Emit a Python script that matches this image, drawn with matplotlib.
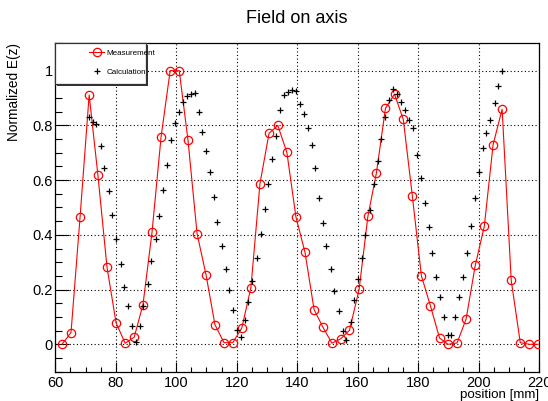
import matplotlib
matplotlib.use('Agg')
import matplotlib.pyplot as plt
from matplotlib.ticker import MultipleLocator, FuncFormatter
from matplotlib.patches import Rectangle

plt.rcParams['font.family'] = ['Liberation Sans', 'DejaVu Sans']

meas_pos = [62.2, 65.2, 68.2, 71.2, 74.1, 77.1, 80.1, 83.1, 86.1, 89.0, 92.0, 95.0,
            98.0, 101.0, 103.9, 106.9, 109.9, 112.8, 115.8, 118.7, 121.7, 124.7,
            127.7, 130.7, 133.6, 136.6, 139.6, 142.6, 145.6, 148.5, 151.5, 154.4,
            157.3, 160.5, 163.4, 166.2, 169.2, 172.2, 175.1, 178.1, 181.1, 184.1,
            187.1, 189.9, 192.9, 195.9, 198.9, 201.9, 204.8, 207.8, 210.8, 213.8,
            216.8, 219.7]
meas_val = [0.0, 0.043, 0.466, 0.911, 0.618, 0.282, 0.079, 0.004, 0.026, 0.145,
            0.410, 0.759, 1.0, 1.0, 0.745, 0.404, 0.252, 0.072, 0.006, 0.006,
            0.060, 0.207, 0.587, 0.771, 0.800, 0.701, 0.465, 0.336, 0.127, 0.063,
            0.004, 0.020, 0.051, 0.201, 0.468, 0.625, 0.862, 0.914, 0.822, 0.542,
            0.250, 0.140, 0.023, 0.0, 0.005, 0.093, 0.288, 0.431, 0.729, 0.859,
            0.234, 0.006, 0.0, 0.0]

# calculated field
calc_pos = [71.2, 72.4, 73.6, 75.0, 76.2, 77.7, 78.9, 80.2, 81.7, 82.7, 84.2, 85.3,
            86.6, 87.9, 89.1, 90.5, 91.8, 93.2, 94.4, 95.7, 97.0, 98.2, 99.6, 100.9,
            102.2, 103.5, 104.8, 106.2, 107.4, 108.5, 109.9, 111.1, 112.4, 113.6,
            115.0, 116.3, 117.4, 118.9, 120.2, 121.4, 122.6, 123.9, 125.2, 126.6,
            127.9, 129.2, 130.5, 131.8, 133.1, 134.4, 135.7, 137.0, 138.3, 139.6,
            140.9, 142.3, 143.6, 144.8, 145.8, 147.2, 148.5, 149.6, 151.2, 152.3,
            153.8, 155.0, 156.2, 157.7, 158.8, 160.1, 161.3, 162.6, 164.0, 165.3,
            166.6, 167.8, 169.2, 170.5, 171.8, 173.0, 174.4, 175.7, 177.0, 178.3,
            179.5, 180.8, 182.2, 183.5, 184.5, 186.0, 187.2, 188.5, 189.8, 190.9,
            192.3, 193.6, 194.9, 196.2, 197.6, 198.9, 200.0, 201.4, 202.6, 203.9,
            205.3, 206.5, 207.8]
calc_val = [0.829, 0.812, 0.804, 0.725, 0.643, 0.560, 0.474, 0.383, 0.294, 0.210,
            0.140, 0.068, 0.008, 0.067, 0.139, 0.220, 0.303, 0.383, 0.468, 0.563,
            0.654, 0.745, 0.807, 0.850, 0.884, 0.907, 0.915, 0.917, 0.848, 0.777,
            0.706, 0.631, 0.540, 0.446, 0.359, 0.274, 0.198, 0.126, 0.054, 0.026,
            0.088, 0.154, 0.233, 0.315, 0.404, 0.494, 0.587, 0.676, 0.761, 0.856,
            0.910, 0.923, 0.929, 0.926, 0.878, 0.842, 0.789, 0.728, 0.643, 0.535,
            0.445, 0.359, 0.274, 0.194, 0.120, 0.049, 0.017, 0.082, 0.161, 0.237,
            0.317, 0.401, 0.490, 0.585, 0.670, 0.751, 0.829, 0.893, 0.933, 0.914,
            0.887, 0.856, 0.820, 0.789, 0.692, 0.606, 0.515, 0.427, 0.334, 0.246,
            0.173, 0.100, 0.033, 0.033, 0.100, 0.173, 0.246, 0.334, 0.433, 0.533,
            0.631, 0.716, 0.773, 0.820, 0.883, 0.945, 0.999]

fig = plt.figure(figsize=(5.48, 4.01), dpi=100)
ax = fig.add_axes([0.1009, 0.0731, 0.8827, 0.8190])

ax.plot(meas_pos, meas_val, '-o', color='red', lw=0.8, ms=6, mew=0.9,
        mfc='none', label='Measurement', zorder=3)
ax.plot(calc_pos, calc_val, '+', color='black', ms=5, mew=0.9,
        label='Calculation', zorder=3)

ax.set_xlim(60, 220)
ax.set_ylim(-0.1, 1.1)
ax.xaxis.set_major_locator(MultipleLocator(20))
ax.xaxis.set_minor_locator(MultipleLocator(5))
ax.yaxis.set_major_locator(MultipleLocator(0.2))
ax.yaxis.set_minor_locator(MultipleLocator(0.05))
ax.yaxis.set_major_formatter(FuncFormatter(lambda v, p: '%g' % round(v, 2)))

ax.tick_params(axis='both', which='both', direction='in', width=0.8,
               labelsize=10.5, top=False, right=False)
ax.tick_params(axis='y', which='major', length=10.4, pad=2)
ax.tick_params(axis='y', which='minor', length=5.2)
ax.tick_params(axis='x', which='major', length=7.1, pad=3)
ax.tick_params(axis='x', which='minor', length=3.5)
for s in ax.spines.values():
    s.set_linewidth(0.9)

ax.grid(True, which='major', color='black', lw=0.8, linestyle=(0, (1, 2.2)))

ax.set_title('Field on axis', fontsize=13, pad=14.5)
ax.set_ylabel('Normalized E(z)', fontsize=9.8, loc='top')
ax.yaxis.set_label_coords(-0.071, 1.0)
ax.set_xlabel('position [mm]', fontsize=9.6, loc='right')
ax.xaxis.set_label_coords(1.0, -0.053)

# legend box in the top-left corner, with the small ROOT-style shadow
ax.add_patch(Rectangle((0.004, 0.870), 0.1875, 0.124, transform=ax.transAxes,
                       facecolor='#333333', edgecolor='none',
                       clip_on=False, zorder=4))
ax.add_patch(Rectangle((0, 0.876), 0.1875, 0.124, transform=ax.transAxes,
                       facecolor='white', edgecolor='#333333', lw=0.9,
                       clip_on=False, zorder=4))
leg = ax.legend(loc='upper left', bbox_to_anchor=(0.0697, 0.982), frameon=False,
                fontsize=5.8, borderpad=0, borderaxespad=0, handlelength=1.86,
                handletextpad=0.35, labelspacing=1.45)
leg.set_zorder(5)

fig.savefig('out.png', dpi=100)
